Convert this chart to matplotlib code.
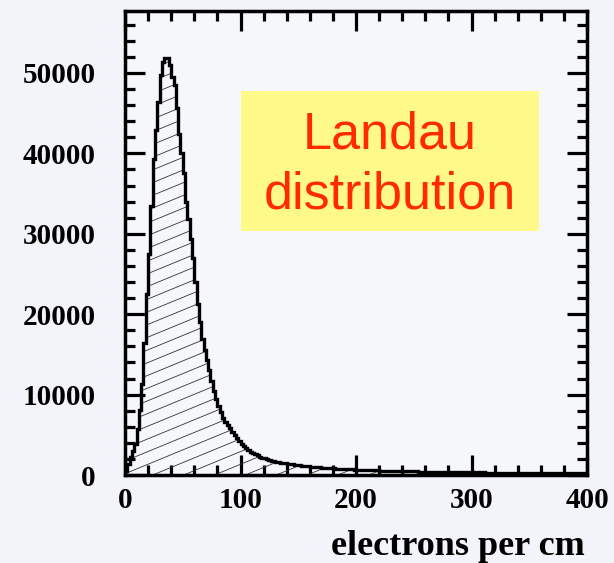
import matplotlib
matplotlib.use('Agg')
import matplotlib.pyplot as plt
import numpy as np
from matplotlib.collections import LineCollection
from matplotlib.patches import Rectangle
from matplotlib.ticker import MultipleLocator, StrMethodFormatter

# ---- data ----
bin_edges = np.arange(0, 402, 2)
counts = [
    450, 1350, 2200, 3000, 3900, 5700, 8100, 11300, 16400, 22500,
    27500, 33500, 39300, 42900, 46400, 49700, 51300, 51900, 51900, 51000,
    49500, 48500, 45600, 42400, 40100, 37600, 34000, 31800, 29400, 27000,
    24000, 21300, 19000, 16900, 15500, 14300, 13100, 11700, 10400, 9500,
    8600, 7800, 7050, 6650, 6250, 5880, 5400, 4950, 4550, 4200,
    3880, 3600, 3350, 3120, 2920, 2740, 2580, 2440, 2300, 2170,
    2060, 1970, 1880, 1800, 1730, 1660, 1600, 1540, 1490, 1440,
    1400, 1360, 1320, 1280, 1240, 1205, 1170, 1140, 1110, 1075,
    1040, 1005, 985, 965, 945, 925, 905, 885, 865, 845,
    815, 800, 785, 770, 755, 740, 725, 710, 695, 678,
    660, 650, 637, 625, 615, 605, 595, 585, 575, 565,
    555, 547, 539, 531, 523, 516, 509, 501, 494, 487,
    479, 472, 465, 459, 453, 447, 441, 435, 429, 423,
    418, 412, 407, 402, 397, 392, 387, 382, 378, 373,
    369, 364, 360, 356, 352, 348, 344, 340, 336, 332,
    329, 325, 322, 318, 315, 311, 308, 305, 302, 299,
    296, 293, 290, 287, 284, 281, 278, 275, 272, 270,
    267, 265, 262, 260, 257, 255, 252, 250, 248, 246,
    243, 241, 239, 237, 235, 233, 231, 229, 227, 225,
    223, 221, 219, 217, 216, 214, 212, 211, 209, 207,
]
x_label = "electrons per cm"
box_lines = ["Landau", "distribution"]

W, H = 614, 563
fig = plt.figure(figsize=(W / 100, H / 100), dpi=100, facecolor='#f3f4f9')
ax = fig.add_axes([125 / W, 1 - 475 / H, (587 - 125) / W, (475 - 11) / H])
ax.set_facecolor('#f6f7fb')

fillpatch = ax.stairs(counts, bin_edges, fill=True, facecolor='none',
                      edgecolor='none', baseline=0)
ax.stairs(counts, bin_edges, color='black', linewidth=2.4, baseline=0, zorder=3)

# shallow hatching clipped to histogram area
segs = []
for b in np.arange(-0.6, 1.0, 0.0274):
    segs.append([(0, b), (1, b + 0.41)])
lc = LineCollection(segs, transform=ax.transAxes, colors='#333333',
                    linewidths=0.6, zorder=2)
ax.add_collection(lc, autolim=False)
lc.set_clip_path(fillpatch)

ax.set_xlim(0, 400)
ax.set_ylim(0, 57700)

ax.xaxis.set_major_locator(MultipleLocator(100))
ax.xaxis.set_minor_locator(MultipleLocator(20))
ax.yaxis.set_major_locator(MultipleLocator(10000))
ax.yaxis.set_minor_locator(MultipleLocator(2000))
ax.yaxis.set_major_formatter(StrMethodFormatter('{x:.0f}'))
ax.xaxis.set_major_formatter(StrMethodFormatter('{x:.0f}'))

ax.tick_params(which='both', direction='in', top=True, right=True,
               width=2.3, color='black')
ax.tick_params(which='major', length=14.4)
ax.tick_params(which='minor', length=7.2)
ax.tick_params(axis='x', which='major', pad=9)
ax.tick_params(axis='y', which='major', pad=21)
for lab in ax.get_xticklabels() + ax.get_yticklabels():
    lab.set_fontfamily('Liberation Serif')
    lab.set_fontweight('bold')
    lab.set_fontsize(21)
for s in ax.spines.values():
    s.set_linewidth(2.5)

fig.text(585 / W, 1 - 555 / H, x_label, ha='right', va='baseline',
         fontfamily='Liberation Serif', fontweight='bold', fontsize=26)

rect = Rectangle((241 / W, 1 - 231 / H), 298 / W, 140 / H,
                 transform=fig.transFigure, facecolor='#fff98a',
                 edgecolor='none', zorder=5)
fig.add_artist(rect)
fig.text(390 / W, 1 - 148.3 / H, box_lines[0], ha='center', va='baseline',
         fontfamily='Liberation Sans', fontsize=37.5, color='#ff2a00', zorder=6)
fig.text(390 / W, 1 - 208.3 / H, box_lines[1], ha='center', va='baseline',
         fontfamily='Liberation Sans', fontsize=37.5, color='#ff2a00', zorder=6)

fig.savefig('out.png', dpi=100, facecolor=fig.get_facecolor())
